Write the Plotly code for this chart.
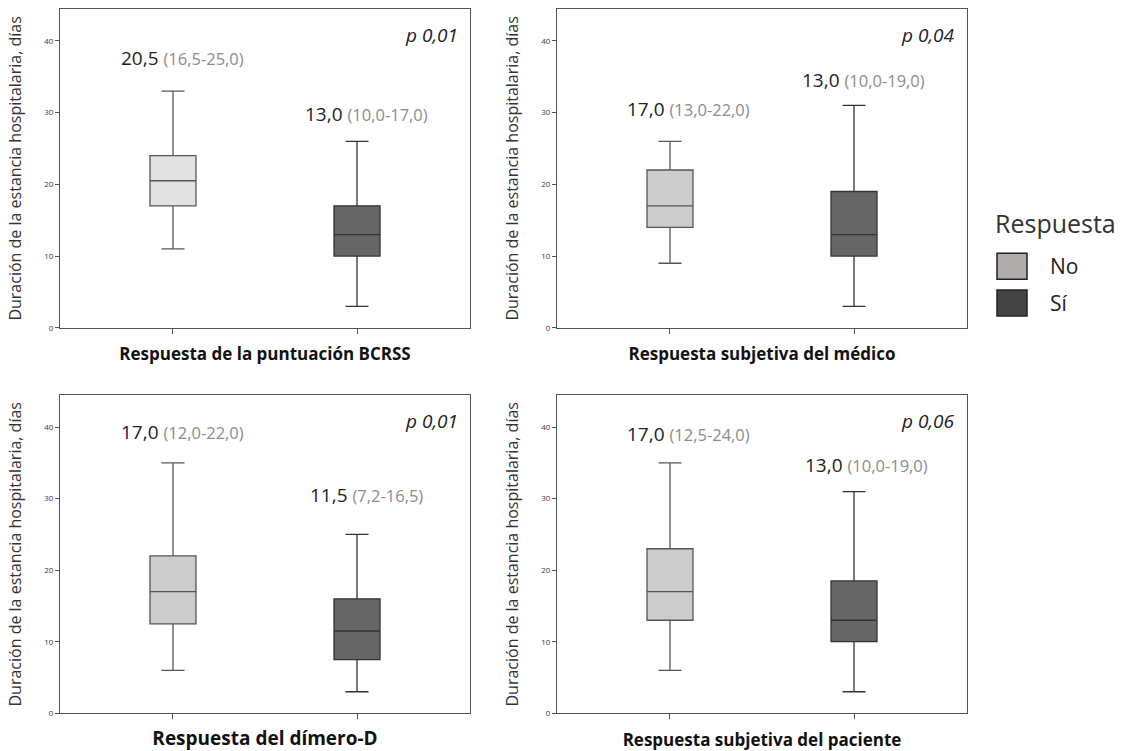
import plotly.graph_objects as go

# ---------------- data ----------------
panel_titles = ["Respuesta de la puntuación BCRSS", "Respuesta subjetiva del médico",
                "Respuesta del dímero-D", "Respuesta subjetiva del paciente"]
groups = ["No", "Sí"]
# [lowerfence, q1, median, q3, upperfence] for No / Sí per panel
no_stats = [[11, 17, 20.5, 24, 33],
            [9, 14, 17, 22, 26],
            [6, 12.5, 17, 22, 35],
            [6, 13, 17, 23, 35]]
si_stats = [[3, 10, 13, 17, 26],
            [3, 10, 13, 19, 31],
            [3, 7.5, 11.5, 16, 25],
            [3, 10, 13, 18.5, 31]]
no_labels = [("20,5", "(16,5-25,0)"), ("17,0", "(13,0-22,0)"),
             ("17,0", "(12,0-22,0)"), ("17,0", "(12,5-24,0)")]
si_labels = [("13,0", "(10,0-17,0)"), ("13,0", "(10,0-19,0)"),
             ("11,5", "(7,2-16,5)"), ("13,0", "(10,0-19,0)")]
no_label_y = [37.6, 30.5, 39.3, 39.0]
si_label_y = [29.8, 34.6, 30.5, 34.7]
p_values = ["p 0,01", "p 0,04", "p 0,01", "p 0,06"]
y_title = "Duración de la estancia hospitalaria, días"
y_ticks = [0, 10, 20, 30, 40]
legend_title = "Respuesta"

# ---------------- style ----------------
FONT = "'Open Sans', Lato, sans-serif"
W, H = 1132, 751
no_fill = ["#e2e2e2", "#cccccc", "#cccccc", "#cccccc"]
si_fill = ["#666666", "#666666", "#666666", "#666666"]
legend_colors = ["#b0acac", "#444444"]
x_dom = [(60 / W, 470 / W), (557 / W, 967 / W)]
y_dom = [(1 - 330 / H, 1 - 9 / H), (1 - 718 / H, 1 - 398 / H)]
title_sizes = [17, 17, 19, 17]
title_standoff = [15, 15, 14, 15]
no_dx = [0.054, 0.098, 0.054, 0.098]
si_dx = [0.054, 0.054, 0.054, 0.07]

fig = go.Figure()
layout = dict(
    width=W, height=H, margin=dict(l=0, r=0, t=0, b=0),
    paper_bgcolor="white", plot_bgcolor="white",
    font=dict(family=FONT, color="#222"),
    showlegend=False,
)
annotations = []
shapes = []

for i in range(4):
    row, col = divmod(i, 2)
    ax = "" if i == 0 else str(i + 1)
    xa, ya = "x" + ax, "y" + ax
    for gi, (stats, fill, lc) in enumerate([(no_stats[i], no_fill[i], "#555555"),
                                            (si_stats[i], si_fill[i], "#333333")]):
        lf, q1, med, q3, uf = stats
        fig.add_trace(go.Box(
            x=[gi], q1=[q1], median=[med], q3=[q3], lowerfence=[lf], upperfence=[uf],
            width=0.25, whiskerwidth=0.5, fillcolor=fill, name=groups[gi],
            line=dict(color=lc, width=1.3), boxpoints=False,
            showlegend=False, hoverinfo="skip", xaxis=xa, yaxis=ya,
        ))
    layout["xaxis" + ax] = dict(
        domain=list(x_dom[col]), anchor=ya, range=[-0.614, 1.614],
        showgrid=False, zeroline=False, showline=True, mirror=True,
        linecolor="#555555", linewidth=1, ticks="outside", ticklen=5,
        tickcolor="#555555", tickvals=[0, 1], showticklabels=False,
        title=dict(text="<b>" + panel_titles[i] + "</b>",
                   font=dict(size=title_sizes[i], color="#111"), standoff=title_standoff[i]),
        fixedrange=True,
    )
    layout["yaxis" + ax] = dict(
        domain=list(y_dom[row]), anchor=xa, range=[0, 44.45],
        showgrid=False, zeroline=False, showline=True, mirror=True,
        linecolor="#555555", linewidth=1, ticks="outside", ticklen=4,
        tickcolor="#555555", tickvals=y_ticks,
        tickfont=dict(size=8, color="#4a3048"),
        title=dict(text=y_title, font=dict(size=16, color="#333"), standoff=18),
        fixedrange=True,
    )
    for gi, (lab, ly, dx) in enumerate([(no_labels[i], no_label_y[i], no_dx[i]),
                                        (si_labels[i], si_label_y[i], si_dx[i])]):
        annotations.append(dict(
            x=gi + dx, y=ly, xref=xa, yref=ya, showarrow=False,
            text=lab[0] + " <span style='color:#8c8c8c;font-size:16.5px'>" + lab[1] + "</span>",
            font=dict(size=19, color="#222"), xanchor="center", yanchor="middle",
        ))
    annotations.append(dict(
        x=0.975, y=0.965, xref=xa + " domain", yref=ya + " domain", showarrow=False,
        text="<i>" + p_values[i] + "</i>", font=dict(size=19, color="#222"),
        xanchor="right", yanchor="top",
    ))

# legend (drawn manually: title, swatches, labels)
annotations.append(dict(
    x=993 / W, y=1 - 224 / H, xref="paper", yref="paper", showarrow=False,
    text=legend_title, font=dict(size=25, color="#333"), xanchor="left", yanchor="middle",
))
swatch_y = [268, 305]
for g, c, yc in zip(groups, legend_colors, swatch_y):
    shapes.append(dict(
        type="rect", xref="paper", yref="paper",
        x0=997 / W, x1=1027 / W, y0=1 - (yc + 13) / H, y1=1 - (yc - 13) / H,
        fillcolor=c, line=dict(color="#222222", width=1.5),
    ))
    annotations.append(dict(
        x=1048 / W, y=1 - yc / H, xref="paper", yref="paper", showarrow=False,
        text=g, font=dict(size=21, color="#222"), xanchor="left", yanchor="middle",
    ))

layout["annotations"] = annotations
layout["shapes"] = shapes
fig.update_layout(**layout)
fig.write_html("out.html")
